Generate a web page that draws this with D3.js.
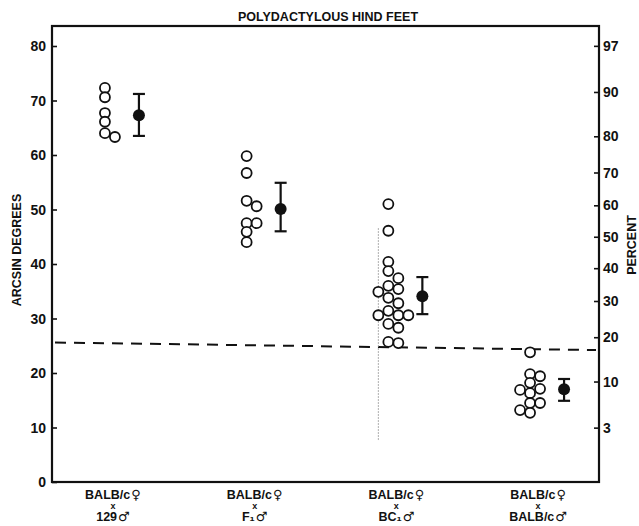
<html>
<head>
<script src="https://d3js.org/d3.v7.min.js"></script>
<style>
  body { margin: 0; background: white; }
  text { font-family: "Liberation Sans", Arial, sans-serif; font-weight: bold; fill: #111; }
  .sex { font-family: "DejaVu Sans", sans-serif; }
</style>
</head>
<body>
<svg id="chart" width="639" height="526"></svg>
<script>
// data (arcsin degrees)
const crosses = ["129", "F1", "BC1", "BALB/c"];
const crossLabels = [
  [["BALB/c", "\u2640"], ["x", ""], ["129", "\u2642"]],
  [["BALB/c", "\u2640"], ["x", ""], ["F\u2081", "\u2642"]],
  [["BALB/c", "\u2640"], ["x", ""], ["BC\u2081", "\u2642"]],
  [["BALB/c", "\u2640"], ["x", ""], ["BALB/c", "\u2642"]]
];
const litters129 = [72.3, 70.6, 67.7, 66.1, 64.0, 63.3];
const littersF1 = [59.8, 56.7, 51.6, 50.6, 47.5, 47.5, 45.9, 44.0];
const littersBC1 = [51.0, 46.1, 40.4, 38.7, 37.4, 36.0, 35.4, 34.9, 33.8, 32.8, 31.4, 30.6, 30.6, 30.6, 29.0, 28.3, 25.7, 25.5];
const littersBALB = [23.8, 19.8, 19.4, 18.2, 17.1, 16.9, 16.3, 14.5, 14.5, 13.2, 12.7];
const meanValues = [67.3, 50.1, 34.1, 17.0];
const upperValues = [71.2, 54.9, 37.6, 18.9];
const lowerValues = [63.5, 46.0, 30.8, 14.9];
const degreeTicks = [0, 10, 20, 30, 40, 50, 60, 70, 80];
const percentTicks = [3, 10, 20, 30, 40, 50, 60, 70, 80, 90, 97];
const thresholdLine = [25.6, 24.2]; // dashed line, left and right ends
const stripLine = [46.6, 7.7];      // faint vertical line in BC1 group

const allLitters = [litters129, littersF1, littersBC1, littersBALB];

const svg = d3.select("#chart");
const margin = {top: 26, right: 40, bottom: 44, left: 52};
const width = +svg.attr("width"), height = +svg.attr("height");
const x0 = margin.left, x1 = width - margin.right;
const y0 = height - margin.bottom;

const y = d3.scaleLinear().domain([0, 80]).range([y0, 46]);
const x = d3.scalePoint().domain(crosses).range([x0, x1]).padding(0.43);

// frame
svg.append("rect")
  .attr("x", x0).attr("y", margin.top)
  .attr("width", x1 - x0).attr("height", y0 - margin.top)
  .attr("fill", "none").attr("stroke", "#111").attr("stroke-width", 2.2);

// left axis, ticks inward
const leftAxis = d3.axisRight(y).tickValues(degreeTicks).tickSize(5).tickFormat("");
svg.append("g").attr("transform", `translate(${x0},0)`).call(leftAxis)
  .call(g => g.select(".domain").remove())
  .call(g => g.selectAll("line").attr("stroke", "#111").attr("stroke-width", 1.6));
svg.append("g").selectAll("text").data(degreeTicks).join("text")
  .attr("x", x0 - 6).attr("y", d => y(d)).attr("dy", "0.36em")
  .attr("text-anchor", "end").style("font-size", "14px")
  .text(d => d);

// right axis: percent on arcsin scale
const toDeg = p => Math.asin(Math.sqrt(p / 100)) * 180 / Math.PI;
const yPct = d3.scaleLinear().domain([0, 80]).range(y.range());
const rightAxis = d3.axisLeft(yPct).tickValues(percentTicks.map(toDeg)).tickSize(5).tickFormat("");
svg.append("g").attr("transform", `translate(${x1},0)`).call(rightAxis)
  .call(g => g.select(".domain").remove())
  .call(g => g.selectAll("line").attr("stroke", "#111").attr("stroke-width", 1.6));
svg.append("g").selectAll("text").data(percentTicks).join("text")
  .attr("x", x1 + 4).attr("y", d => yPct(toDeg(d))).attr("dy", "0.36em")
  .attr("text-anchor", "start").style("font-size", "14px")
  .text(d => d);

// axis titles
svg.append("text")
  .attr("transform", `translate(21,250) rotate(-90)`)
  .attr("text-anchor", "middle").style("font-size", "12.5px")
  .text("ARCSIN DEGREES");
svg.append("text")
  .attr("transform", `translate(636,245) rotate(-90)`)
  .attr("text-anchor", "middle").style("font-size", "12.5px")
  .text("PERCENT");

svg.append("text")
  .attr("x", 328).attr("y", 21).attr("text-anchor", "middle")
  .style("font-size", "12.5px")
  .text("POLYDACTYLOUS HIND FEET");

// category labels
const catG = svg.append("g").selectAll("g").data(crosses).join("g")
  .attr("transform", d => `translate(${x(d)},0)`);
const catT = catG.selectAll("text").data((d, i) => crossLabels[i]).join("text")
  .attr("x", 0).attr("y", (d, j) => [499, 509, 521][j])
  .attr("text-anchor", "middle")
  .style("font-size", (d, j) => j === 1 ? "9px" : "12.5px");
catT.append("tspan").text(d => d[0]);
catT.append("tspan").attr("class", "sex").attr("dx", 1)
  .style("font-size", "13px").text(d => d[1]);

// dashed threshold line
svg.append("line")
  .attr("x1", x0 + 3).attr("x2", x1 - 3)
  .attr("y1", y(thresholdLine[0])).attr("y2", y(thresholdLine[1]))
  .attr("stroke", "#111").attr("stroke-width", 2)
  .attr("stroke-dasharray", "11,8");

// faint vertical line in the BC1 group
svg.append("line")
  .attr("x1", x("BC1") - 18).attr("x2", x("BC1") - 18)
  .attr("y1", y(stripLine[0])).attr("y2", y(stripLine[1]))
  .attr("stroke", "#999").attr("stroke-width", 0.8)
  .attr("stroke-dasharray", "2,1");

// open circles: simple dodge so they don't pile up
const r = 5, minDist = 8.6, step = 10;
const points = [];
allLitters.forEach((vals, gi) => {
  const cx = x(crosses[gi]) - 8;
  const placed = [];
  vals.forEach(v => {
    const cy = y(v);
    const offsets = [0, step, -step, 2 * step, -2 * step, 3 * step];
    for (const o of offsets) {
      const px = cx + o;
      if (placed.every(p => Math.hypot(p.x - px, p.y - cy) >= minDist)) {
        placed.push({x: px, y: cy});
        break;
      }
    }
  });
  points.push(...placed);
});

svg.append("g").selectAll("circle").data(points).join("circle")
  .attr("cx", d => d.x).attr("cy", d => d.y).attr("r", r)
  .attr("fill", "white").attr("stroke", "#111").attr("stroke-width", 1.8);

// means with error bars
const meanG = svg.append("g").selectAll("g").data(crosses).join("g")
  .attr("transform", d => `translate(${x(d) + 26},0)`);
meanG.append("line")
  .attr("y1", (d, i) => y(upperValues[i])).attr("y2", (d, i) => y(lowerValues[i]))
  .attr("stroke", "#111").attr("stroke-width", 2.2);
meanG.append("line")
  .attr("x1", -6).attr("x2", 6)
  .attr("y1", (d, i) => y(upperValues[i])).attr("y2", (d, i) => y(upperValues[i]))
  .attr("stroke", "#111").attr("stroke-width", 2.2);
meanG.append("line")
  .attr("x1", -6).attr("x2", 6)
  .attr("y1", (d, i) => y(lowerValues[i])).attr("y2", (d, i) => y(lowerValues[i]))
  .attr("stroke", "#111").attr("stroke-width", 2.2);
meanG.append("circle")
  .attr("cy", (d, i) => y(meanValues[i])).attr("r", 6)
  .attr("fill", "#111");
</script>
</body>
</html>
